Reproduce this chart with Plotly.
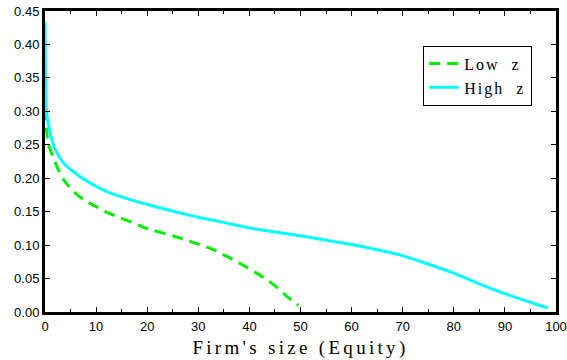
import plotly.graph_objects as go

low_x = [0.0, 0.6, 1.6, 2.6, 3.9, 6.2, 8.2, 10.4, 12.7, 14.7, 17.0, 19.2, 21.2, 25.0, 27.8, 29.8, 32.4, 34.3, 36.7, 38.8, 41.0, 43.5, 45.5, 47.4, 49.6]
low_y = [0.303, 0.253, 0.231, 0.213, 0.195, 0.176, 0.165, 0.156, 0.147, 0.141, 0.134, 0.127, 0.122, 0.114, 0.107, 0.102, 0.095, 0.088, 0.079, 0.070, 0.060, 0.048, 0.036, 0.023, 0.010]

high_x = [0.0, 0.3, 1.0, 2.0, 3.6, 5.5, 8.8, 12.1, 16.7, 21.9, 26.5, 30.4, 34.9, 39.8, 44.7, 50.0, 54.5, 60.0, 65.7, 69.6, 74.1, 80.0, 85.3, 89.8, 94.0, 98.4]
high_y = [0.433, 0.298, 0.268, 0.243, 0.223, 0.210, 0.193, 0.180, 0.168, 0.157, 0.148, 0.141, 0.134, 0.126, 0.120, 0.114, 0.108, 0.101, 0.092, 0.085, 0.074, 0.058, 0.041, 0.028, 0.017, 0.006]

x_ticks = [0, 10, 20, 30, 40, 50, 60, 70, 80, 90, 100]
y_ticks = [0.00, 0.05, 0.10, 0.15, 0.20, 0.25, 0.30, 0.35, 0.40, 0.45]

SP = '<span style="letter-spacing:%s">%s</span>'

fig = go.Figure()
fig.add_trace(go.Scatter(x=low_x, y=low_y, mode="lines", name=SP % ("2px", "Low  z"),
                         line=dict(color="#00ee00", width=3, dash="11px,7px", shape="spline", smoothing=0.6)))
fig.add_trace(go.Scatter(x=high_x, y=high_y, mode="lines", name=SP % ("2px", "High  z"),
                         line=dict(color="#00ffff", width=3, shape="spline", smoothing=0.6)))

fig.update_layout(
    width=567, height=360,
    margin=dict(l=45, r=11, t=11, b=48, autoexpand=False),
    plot_bgcolor="white", paper_bgcolor="white",
    showlegend=True,
    legend=dict(x=0.74, y=0.885, xanchor="left", yanchor="top",
                bordercolor="black", borderwidth=1, bgcolor="white",
                font=dict(family="Liberation Serif", size=16, color="black"),
                tracegroupgap=0, itemwidth=30),
    xaxis=dict(range=[0, 100], tickvals=x_ticks, ticktext=[str(v) for v in x_ticks],
               ticks="inside", ticklen=5, tickwidth=1, tickcolor="black",
               minor=dict(dtick=5, ticks="inside", ticklen=3, tickcolor="black"),
               showline=True, linewidth=3, linecolor="black", mirror="ticks",
               showgrid=False, zeroline=False, automargin=False,
               tickfont=dict(family="Liberation Sans", size=13, color="black"),
               title=dict(text=SP % ("3.3px", "Firm's size (Equity)"), standoff=9,
                          font=dict(family="Liberation Serif", size=19, color="black"))),
    yaxis=dict(range=[0, 0.45], tickvals=y_ticks, ticktext=["%.2f" % v for v in y_ticks],
               ticks="inside", ticklen=5, tickwidth=1, tickcolor="black",
               showline=True, linewidth=3, linecolor="black", mirror="ticks",
               showgrid=False, zeroline=False, automargin=False,
               tickfont=dict(family="Liberation Sans", size=13, color="black")),
)

fig.write_html("out.html")
